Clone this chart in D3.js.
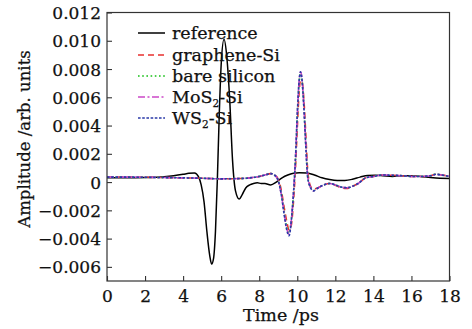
<!DOCTYPE html>
<html><head><meta charset="utf-8">
<script src="https://cdn.jsdelivr.net/npm/d3@7"></script>
<style>body{margin:0;background:#fff}svg{display:block}</style>
</head><body><svg id="c" width="472" height="329"></svg>
<script>
const refT = [0, 1, 2, 3, 3.5, 4, 4.3, 4.6, 4.8, 4.95, 5.1, 5.25, 5.4, 5.5, 5.6, 5.7, 5.8, 5.9, 6.0, 6.15, 6.3, 6.45, 6.6, 6.75, 6.95, 7.1, 7.3, 7.5, 7.7, 7.9, 8.1, 8.3, 8.6, 8.9, 9.2, 9.5, 9.8, 10.1, 10.5, 10.9, 11.3, 11.7, 12.1, 12.5, 12.9, 13.3, 13.7, 14.1, 14.5, 15, 15.5, 16, 16.5, 17, 17.5, 18];
const refV = [0.0003, 0.0003, 0.00032, 0.00038, 0.00045, 0.00055, 0.00062, 0.00065, 0.0004, -0.0002, -0.0014, -0.0035, -0.0052, -0.0058, -0.0054, -0.0035, 0.0002, 0.0048, 0.0083, 0.0101, 0.0088, 0.0058, 0.0015, -0.0006, -0.0012, -0.0009, -0.0004, -0.0002, -0.0001, -0.00005, -0.0001, -0.0001, -0.0002, 0.0, 0.0003, 0.0005, 0.00062, 0.00066, 0.00064, 0.0005, 0.0003, 0.00018, 0.00012, 0.00012, 0.0002, 0.00035, 0.00047, 0.00048, 0.00045, 0.0004, 0.00045, 0.00045, 0.0004, 0.00032, 0.00027, 0.00026];

const sampleT = [0, 1, 2, 3, 4, 5, 6, 7, 7.5, 8, 8.3, 8.6, 8.8, 9.0, 9.15, 9.3, 9.45, 9.57, 9.68, 9.8, 9.9, 10.0, 10.1, 10.17, 10.25, 10.35, 10.45, 10.55, 10.7, 10.85, 11.1, 11.4, 11.7, 12.0, 12.3, 12.6, 12.9, 13.2, 13.6, 14.0, 14.5, 15, 15.5, 16, 16.5, 17, 17.3, 17.6, 18];
const grapheneV = [0.00035, 0.00035, 0.00034, 0.00032, 0.0003, 0.00027, 0.00023, 0.00025, 0.0003, 0.0004, 0.0005, 0.0006, 0.00052, 0.0002, -0.0005, -0.0017, -0.0028, -0.0034, -0.0031, -0.0014, 0.0008, 0.0038, 0.0064, 0.0072, 0.0071, 0.0058, 0.0033, 0.0008, -0.0003, -0.0005, -0.0004, -0.0002, -0.0001, -0.00022, -0.0004, -0.00045, -0.0003, -0.0001, 0.0003, 0.0004, 0.0005, 0.00048, 0.00045, 0.0004, 0.0004, 0.00045, 0.00055, 0.0005, 0.0004];
const bareV = [0.00035, 0.00035, 0.00034, 0.00032, 0.0003, 0.00027, 0.00023, 0.00025, 0.0003, 0.0004, 0.0005, 0.0006, 0.0005, 0.0001, -0.0007, -0.002, -0.0032, -0.0036, -0.0028, -0.0009, 0.0014, 0.0046, 0.0071, 0.0077, 0.0072, 0.0053, 0.0026, 0.0004, -0.0004, -0.0006, -0.0004, -0.0002, -0.0001, -0.0002, -0.00035, -0.0004, -0.0003, -0.0001, 0.0003, 0.0004, 0.0005, 0.00048, 0.00045, 0.0004, 0.0004, 0.00045, 0.00058, 0.0005, 0.0004];
const mos2V = [0.00035, 0.00035, 0.00034, 0.00032, 0.0003, 0.00027, 0.00023, 0.00025, 0.0003, 0.0004, 0.0005, 0.0006, 0.0005, 0.0001, -0.0008, -0.0021, -0.0033, -0.0037, -0.0028, -0.0008, 0.0015, 0.0047, 0.0072, 0.0078, 0.0073, 0.0053, 0.0026, 0.0004, -0.0004, -0.00062, -0.0004, -0.0002, -0.0001, -0.0002, -0.00035, -0.0004, -0.0003, -0.0001, 0.0003, 0.0004, 0.0005, 0.00048, 0.00045, 0.0004, 0.0004, 0.00045, 0.00055, 0.0005, 0.0004];
const ws2V = [0.00035, 0.00035, 0.00034, 0.00032, 0.0003, 0.00027, 0.00023, 0.00025, 0.0003, 0.0004, 0.0005, 0.0006, 0.0005, 0.0001, -0.0008, -0.0022, -0.0034, -0.0038, -0.0028, -0.0008, 0.0015, 0.0048, 0.0072, 0.0078, 0.0072, 0.0052, 0.0025, 0.0003, -0.0004, -0.00062, -0.0004, -0.0002, -0.0001, -0.0002, -0.00035, -0.0004, -0.0003, -0.0001, 0.0003, 0.0004, 0.0005, 0.00048, 0.00045, 0.0004, 0.0004, 0.00045, 0.00055, 0.0005, 0.0004];

const xTicks = [0, 2, 4, 6, 8, 10, 12, 14, 16, 18];
const yTicks = [-0.006, -0.004, -0.002, 0, 0.002, 0.004, 0.006, 0.008, 0.010, 0.012];
const yTickLabels = ["\u22120.006", "\u22120.004", "\u22120.002", "0", "0.002", "0.004", "0.006", "0.008", "0.010", "0.012"];
const seriesNames = ["reference", "graphene-Si", "bare silicon", "MoS2-Si", "WS2-Si"];
const seriesColors = ["#000000", "#e8312f", "#4fcf4f", "#cc48c8", "#2a3aa8"];

const svg = d3.select("#c");
const L = 107, R = 449.5, T = 12.5, B = 281;
const x = d3.scaleLinear().domain([0, 18]).range([L, R]);
const y = d3.scaleLinear().domain([-0.007, 0.012]).range([B, T]);
const font = "'DejaVu Serif', serif";

const series = [
  {name: seriesNames[0], t: refT, v: refV, color: seriesColors[0], dash: null, w: 1.5},
  {name: seriesNames[1], t: sampleT, v: grapheneV, color: seriesColors[1], dash: "6,4", w: 1.6},
  {name: seriesNames[2], t: sampleT, v: bareV, color: seriesColors[2], dash: "1.6,2.6", w: 1.8},
  {name: seriesNames[3], t: sampleT, v: mos2V, color: seriesColors[3], dash: "7,2.5,2,2.5", w: 1.6},
  {name: seriesNames[4], t: sampleT, v: ws2V, color: seriesColors[4], dash: "2.6,1.6", w: 1.6}
];

const line = d3.line().x(d => x(d[0])).y(d => y(d[1])).curve(d3.curveMonotoneX);
svg.append("clipPath").attr("id", "pc").append("rect")
  .attr("x", L).attr("y", T).attr("width", R - L).attr("height", B - T);
const g = svg.append("g").attr("clip-path", "url(#pc)");
series.forEach(s => {
  g.append("path").datum(s.t.map((t, i) => [t, s.v[i]]))
    .attr("d", line).attr("fill", "none").attr("stroke", s.color)
    .attr("stroke-width", s.w).attr("stroke-dasharray", s.dash);
});

// frame
svg.append("rect").attr("x", L).attr("y", T).attr("width", R - L).attr("height", B - T)
  .attr("fill", "none").attr("stroke", "#333").attr("stroke-width", 1.2);

// axes with inward ticks
const xAxis = svg.append("g").attr("transform", `translate(0,${B})`)
  .call(d3.axisBottom(x).tickValues(xTicks).tickSize(-5).tickPadding(9).tickFormat(d3.format("d")));
const yAxis = svg.append("g").attr("transform", `translate(${L},0)`)
  .call(d3.axisLeft(y).tickValues(yTicks).tickSize(-5).tickPadding(6).tickFormat((d, i) => yTickLabels[i]));
[xAxis, yAxis].forEach(a => {
  a.select(".domain").remove();
  a.selectAll(".tick line").attr("stroke", "#333").attr("stroke-width", 1.1);
  a.selectAll("text").attr("font-family", font).attr("font-size", 17).attr("fill", "#111")
    .attr("stroke", "#111").attr("stroke-width", 0.25);
});
xAxis.selectAll("text").attr("dy", "0.71em");
yAxis.selectAll("text").attr("dy", "0.36em");

// axis titles
svg.append("text").attr("x", 281).attr("y", 321).attr("text-anchor", "middle")
  .attr("font-family", font).attr("font-size", 17.5).attr("fill", "#111")
  .attr("stroke", "#111").attr("stroke-width", 0.25).text("Time /ps");
svg.append("text").attr("transform", "translate(30,139) rotate(-90)").attr("text-anchor", "middle")
  .attr("font-family", font).attr("font-size", 16.5).attr("fill", "#111")
  .attr("stroke", "#111").attr("stroke-width", 0.25).text("Amplitude /arb. units");

// legend
const legY = [33, 55, 76, 97, 118];
series.forEach((s, i) => {
  svg.append("line").attr("x1", 138).attr("x2", 165).attr("y1", legY[i]).attr("y2", legY[i])
    .attr("stroke", s.color).attr("stroke-width", s.w).attr("stroke-dasharray", s.dash);
  const txt = svg.append("text").attr("x", 172).attr("y", legY[i] + 6)
    .attr("font-family", font).attr("font-size", 17.5).attr("fill", "#111")
    .attr("stroke", "#111").attr("stroke-width", 0.25);
  const m = s.name.match(/^(.*?)2(-Si)$/);
  if (m && (s.name.startsWith("MoS") || s.name.startsWith("WS"))) {
    txt.append("tspan").text(m[1]);
    txt.append("tspan").attr("font-size", 10.5).attr("dy", 4).text("2");
    txt.append("tspan").attr("dy", -4).text(m[2]);
  } else {
    txt.text(s.name);
  }
});
</script></body></html>
